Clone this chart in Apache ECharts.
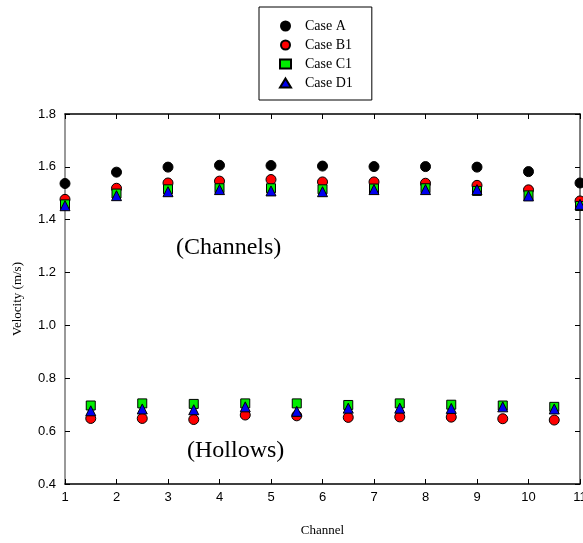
<!DOCTYPE html>
<html><head><meta charset="utf-8">
<script src="https://cdn.jsdelivr.net/npm/echarts@6/dist/echarts.min.js"></script>
<style>html,body{margin:0;padding:0;background:#fff}#c{width:583px;height:543px}</style>
</head><body><div id="c"></div>
<script>
const channelX = [1,2,3,4,5,6,7,8,9,10,11];
const hollowX = [1.5,2.5,3.5,4.5,5.5,6.5,7.5,8.5,9.5,10.5];
const caseA_ch = [1.537,1.580,1.599,1.606,1.605,1.603,1.601,1.601,1.599,1.582,1.539];
const caseB1_ch = [1.477,1.519,1.539,1.546,1.552,1.543,1.543,1.538,1.530,1.513,1.471];
const caseC1_ch = [1.458,1.499,1.515,1.519,1.519,1.515,1.518,1.519,1.509,1.492,1.452];
const caseD1_ch = [1.453,1.491,1.506,1.514,1.509,1.506,1.514,1.514,1.514,1.490,1.458];
const caseB1_ho = [0.648,0.648,0.644,0.661,0.658,0.652,0.654,0.653,0.647,0.642];
const caseC1_ho = [0.697,0.705,0.703,0.705,0.705,0.699,0.705,0.700,0.697,0.692];
const caseD1_ho = [0.677,0.684,0.681,0.692,0.675,0.687,0.687,0.686,0.692,0.684];
const xTicks = [1,2,3,4,5,6,7,8,9,10,11];
const yTicks = [0.4,0.6,0.8,1.0,1.2,1.4,1.6,1.8];
const seriesNames = ['Case A','Case B1','Case C1','Case D1'];

function pts(xs, ys){ return xs.map((x,i)=>[x, ys[i]]); }

const chart = echarts.init(document.getElementById('c'));
const serif = '"Liberation Serif", "Times New Roman", serif';
const sans = '"Liberation Sans", Arial, sans-serif';
const grid = {left:65, right:3, top:114, bottom:59, containLabel:false, outerBoundsMode:'none'};
const mk = (name, symbol, color, size, data) => ({
  name, type:'scatter', symbol, symbolSize:size, data,
  itemStyle:{color, borderColor:'#000', borderWidth:1, opacity:1},
  xAxisIndex:0, yAxisIndex:0, animation:false
});
chart.setOption({
  animation:false,
  grid,
  legend:{
    data:seriesNames, orient:'vertical', left:259, top:7,
    itemGap:3, itemWidth:11, itemHeight:9, padding:[11,19,9,20],
    borderColor:'#000', borderWidth:1,
    textStyle:{fontFamily:serif, fontSize:14, lineHeight:16, color:'#000', padding:[0,0,0,9]}
  },
  xAxis:[{
    type:'value', min:1, max:11, interval:1,
    axisLine:{show:true, onZero:false, lineStyle:{color:'#000', width:1.5}},
    axisTick:{inside:true, length:5, lineStyle:{color:'#000'}},
    axisLabel:{fontFamily:sans, fontSize:13, color:'#000', margin:7},
    splitLine:{show:false},
    name:'Channel', nameLocation:'middle', nameGap:40,
    nameTextStyle:{fontFamily:serif, fontSize:13, color:'#000'}
  },{
    type:'value', min:1, max:11, interval:1, position:'top',
    axisLine:{show:true, onZero:false, lineStyle:{color:'#000', width:1.5}},
    axisTick:{inside:true, length:5, lineStyle:{color:'#000'}},
    axisLabel:{show:false}, splitLine:{show:false}
  }],
  yAxis:[{
    type:'value', min:0.4, max:1.8, interval:0.2,
    axisLine:{show:true, onZero:false, lineStyle:{color:'#777', width:1.5}},
    axisTick:{inside:true, length:5, lineStyle:{color:'#000'}},
    axisLabel:{fontFamily:sans, fontSize:13, color:'#000', margin:9, formatter:v=>v.toFixed(1)},
    splitLine:{show:false},
    name:'Velocity (m/s)', nameLocation:'middle', nameGap:41,
    nameTextStyle:{fontFamily:serif, fontSize:13, color:'#000'}
  },{
    type:'value', min:0.4, max:1.8, interval:0.2, position:'right',
    axisLine:{show:true, onZero:false, lineStyle:{color:'#555', width:1.5}},
    axisTick:{inside:true, length:5, lineStyle:{color:'#000'}},
    axisLabel:{show:false}, splitLine:{show:false}
  }],
  series:[
    mk('Case A','circle','#000',10, pts(channelX, caseA_ch)),
    mk('Case B1','circle','#ff0000',10, pts(channelX, caseB1_ch).concat(pts(hollowX, caseB1_ho))),
    mk('Case C1','rect','#00ee00',9, pts(channelX, caseC1_ch).concat(pts(hollowX, caseC1_ho))),
    mk('Case D1','triangle','#0000ee',10, pts(channelX, caseD1_ch).concat(pts(hollowX, caseD1_ho)))
  ],
  graphic:[
    {type:'text', left:176, top:236, style:{text:'(Channels)', font:'24px '+serif, fill:'#000'}},
    {type:'text', left:187, top:439, style:{text:'(Hollows)', font:'24px '+serif, fill:'#000'}}
  ]
});
</script></body></html>
